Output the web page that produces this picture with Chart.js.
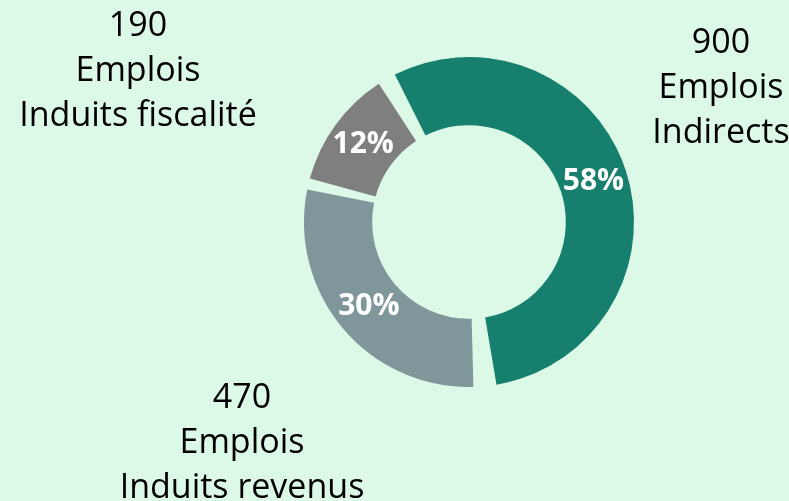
<!DOCTYPE html>
<html>
<head>
<meta charset="utf-8">
<script src="https://cdn.jsdelivr.net/npm/chart.js@4.4.1/dist/chart.umd.min.js"></script>
<style>
  html, body { margin: 0; padding: 0; background: #dcf8e6; }
  .wrap { width: 789px; height: 501px; position: relative; }
</style>
</head>
<body>
<div class="wrap"><canvas id="jobsChart"></canvas></div>
<script>
// emplois par type
const categories = ['Indirects', 'Induits revenus', 'Induits fiscalité'];
const jobs = [900, 470, 190];
const sliceColors = ['#177f6d', '#7f979b', '#7f7f7f'];

// where the outside text blocks sit (center x, first baseline)
const outsideLabelPos = [
  { x: 721, y: 53 },
  { x: 242, y: 408 },
  { x: 138, y: 36 }
];

const total = jobs.reduce((a, b) => a + b, 0);

const labelsPlugin = {
  id: 'labelsPlugin',
  afterDatasetsDraw(chart) {
    const ctx = chart.ctx;
    const meta = chart.getDatasetMeta(0);
    ctx.save();
    ctx.textAlign = 'center';

    // percentages inside the ring
    ctx.fillStyle = '#ffffff';
    ctx.font = 'bold 30px "Open Sans"';
    ctx.textBaseline = 'middle';
    meta.data.forEach((arc, i) => {
      const pos = arc.tooltipPosition();
      const pct = Math.round(jobs[i] / total * 100) + '%';
      ctx.fillText(pct, pos.x, pos.y);
    });

    // value + description outside
    ctx.fillStyle = '#000000';
    ctx.font = '34px "Open Sans"';
    ctx.textBaseline = 'alphabetic';
    categories.forEach((cat, i) => {
      const p = outsideLabelPos[i];
      const lines = [String(jobs[i]), 'Emplois', cat];
      lines.forEach((txt, j) => {
        ctx.fillText(txt, p.x, p.y + j * 45);
      });
    });
    ctx.restore();
  }
};

new Chart(document.getElementById('jobsChart'), {
  type: 'doughnut',
  data: {
    labels: categories,
    datasets: [{
      data: jobs,
      backgroundColor: sliceColors,
      borderWidth: 0,
      spacing: 13
    }]
  },
  options: {
    responsive: true,
    maintainAspectRatio: false,
    animation: false,
    cutout: '57%',
    rotation: -32,
    layout: {
      padding: { top: 57, bottom: 114, left: 269, right: 120 }
    },
    plugins: {
      legend: { display: false },
      tooltip: { enabled: false }
    }
  },
  plugins: [labelsPlugin]
});
</script>
</body>
</html>
